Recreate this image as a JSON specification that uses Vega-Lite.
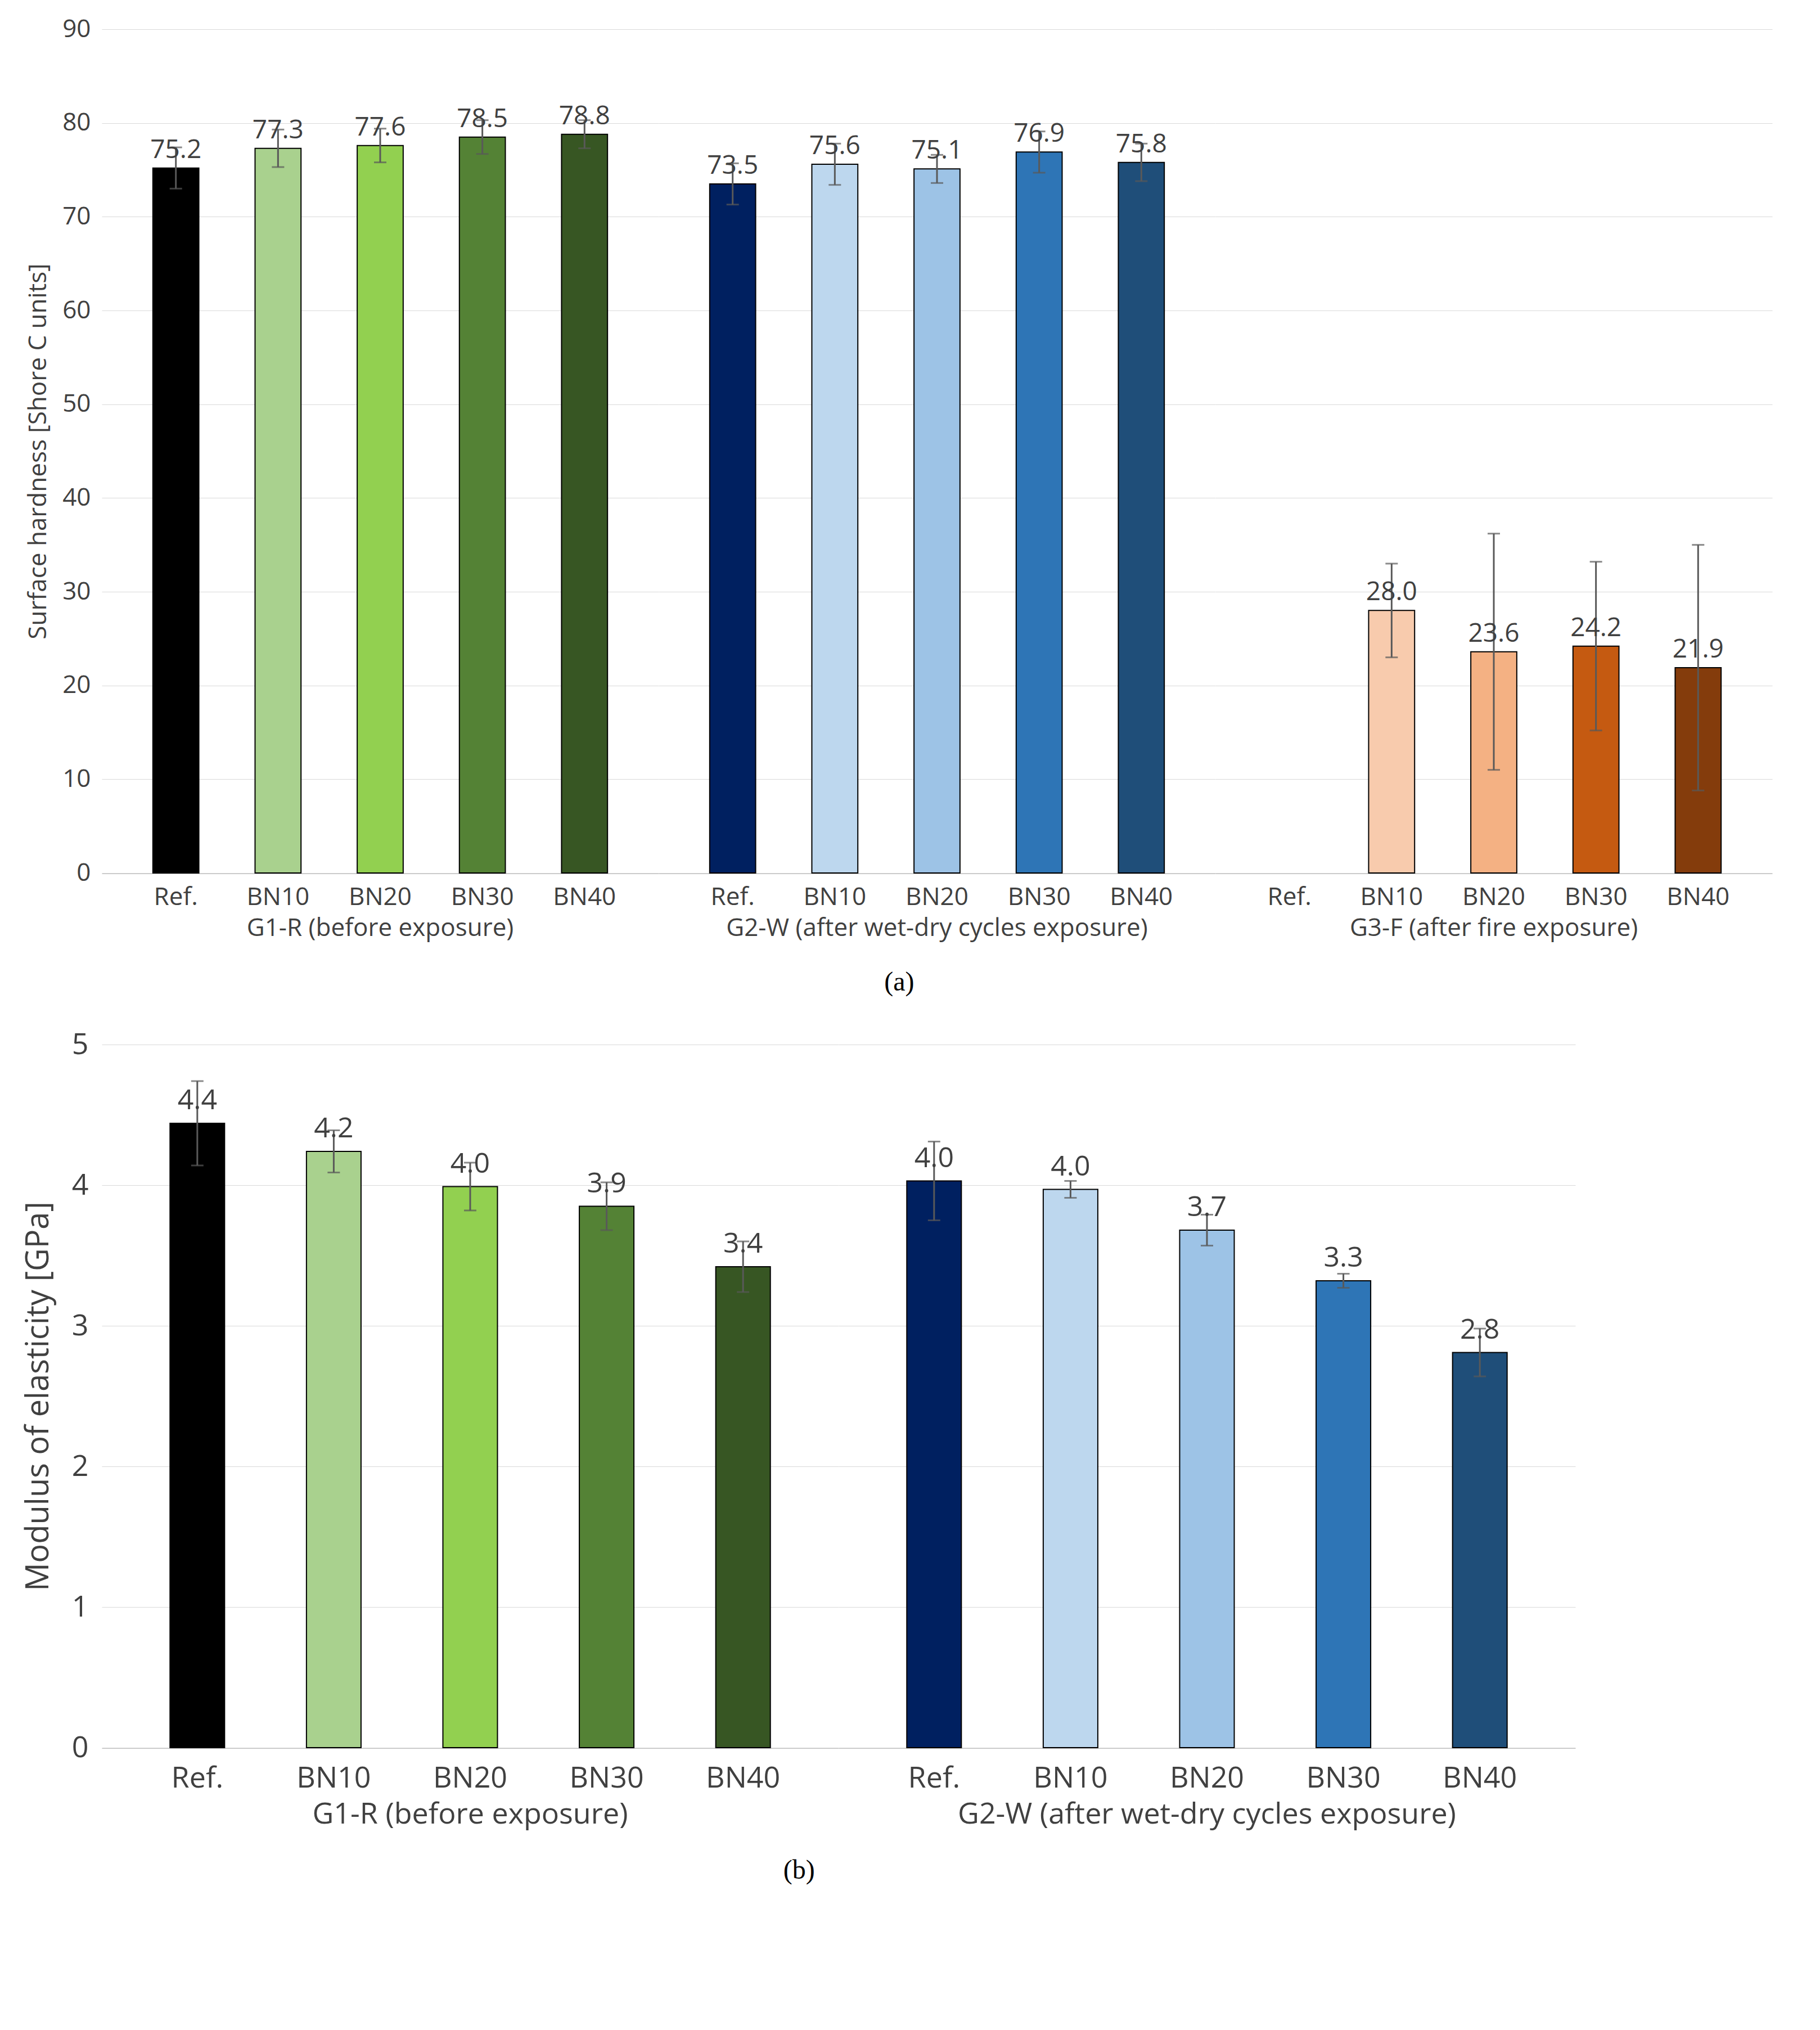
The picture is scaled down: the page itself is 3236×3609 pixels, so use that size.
{
  "$schema": "https://vega.github.io/schema/vega-lite/v6.json",
  "background": "white",
  "padding": {"left": 40, "top": 30, "right": 20, "bottom": 10},
  "spacing": 60,
  "config": {
    "font": "Open Sans",
    "view": {"stroke": null},
    "axis": {"labelFontSize": 44, "labelColor": "#404040", "titleColor": "#404040", "titleFontWeight": "normal", "gridColor": "#d9d9d9", "domainColor": "#bfbfbf", "tickColor": "#bfbfbf"},
    "header": {"labelFontSize": 44, "labelColor": "#404040"},
    "title": {"fontSize": 48, "font": "Liberation Serif", "fontWeight": "normal", "orient": "bottom", "anchor": "middle", "offset": 50}
  },
  "datasets": {
    "a": [
      {"group": "G1-R (before exposure)", "cat": "Ref.", "key": "G1 Ref.", "v": 75.2, "lo": 73.0, "hi": 77.4},
      {"group": "G1-R (before exposure)", "cat": "BN10", "key": "G1 BN10", "v": 77.3, "lo": 75.3, "hi": 79.3},
      {"group": "G1-R (before exposure)", "cat": "BN20", "key": "G1 BN20", "v": 77.6, "lo": 75.8, "hi": 79.4},
      {"group": "G1-R (before exposure)", "cat": "BN30", "key": "G1 BN30", "v": 78.5, "lo": 76.7, "hi": 80.3},
      {"group": "G1-R (before exposure)", "cat": "BN40", "key": "G1 BN40", "v": 78.8, "lo": 77.3, "hi": 80.3},
      {"group": "G2-W (after wet-dry cycles exposure)", "cat": "Ref.", "key": "G2 Ref.", "v": 73.5, "lo": 71.3, "hi": 75.7},
      {"group": "G2-W (after wet-dry cycles exposure)", "cat": "BN10", "key": "G2 BN10", "v": 75.6, "lo": 73.4, "hi": 77.8},
      {"group": "G2-W (after wet-dry cycles exposure)", "cat": "BN20", "key": "G2 BN20", "v": 75.1, "lo": 73.6, "hi": 76.6},
      {"group": "G2-W (after wet-dry cycles exposure)", "cat": "BN30", "key": "G2 BN30", "v": 76.9, "lo": 74.7, "hi": 79.1},
      {"group": "G2-W (after wet-dry cycles exposure)", "cat": "BN40", "key": "G2 BN40", "v": 75.8, "lo": 73.8, "hi": 77.8},
      {"group": "G3-F (after fire exposure)", "cat": "BN10", "key": "G3 BN10", "v": 28.0, "lo": 23.0, "hi": 33.0},
      {"group": "G3-F (after fire exposure)", "cat": "BN20", "key": "G3 BN20", "v": 23.6, "lo": 11.0, "hi": 36.2},
      {"group": "G3-F (after fire exposure)", "cat": "BN30", "key": "G3 BN30", "v": 24.2, "lo": 15.2, "hi": 33.2},
      {"group": "G3-F (after fire exposure)", "cat": "BN40", "key": "G3 BN40", "v": 21.9, "lo": 8.8, "hi": 35.0}
    ],
    "b": [
      {"group": "G1-R (before exposure)", "cat": "Ref.", "key": "G1 Ref.", "v": 4.44, "lo": 4.14, "hi": 4.74},
      {"group": "G1-R (before exposure)", "cat": "BN10", "key": "G1 BN10", "v": 4.24, "lo": 4.09, "hi": 4.39},
      {"group": "G1-R (before exposure)", "cat": "BN20", "key": "G1 BN20", "v": 3.99, "lo": 3.82, "hi": 4.16},
      {"group": "G1-R (before exposure)", "cat": "BN30", "key": "G1 BN30", "v": 3.85, "lo": 3.68, "hi": 4.02},
      {"group": "G1-R (before exposure)", "cat": "BN40", "key": "G1 BN40", "v": 3.42, "lo": 3.24, "hi": 3.60},
      {"group": "G2-W (after wet-dry cycles exposure)", "cat": "Ref.", "key": "G2 Ref.", "v": 4.03, "lo": 3.75, "hi": 4.31},
      {"group": "G2-W (after wet-dry cycles exposure)", "cat": "BN10", "key": "G2 BN10", "v": 3.97, "lo": 3.91, "hi": 4.03},
      {"group": "G2-W (after wet-dry cycles exposure)", "cat": "BN20", "key": "G2 BN20", "v": 3.68, "lo": 3.57, "hi": 3.79},
      {"group": "G2-W (after wet-dry cycles exposure)", "cat": "BN30", "key": "G2 BN30", "v": 3.32, "lo": 3.27, "hi": 3.37},
      {"group": "G2-W (after wet-dry cycles exposure)", "cat": "BN40", "key": "G2 BN40", "v": 2.81, "lo": 2.64, "hi": 2.98}
    ]
  },
  "vconcat": [
    {
      "data": {"name": "a"},
      "title": "(a)",
      "facet": {
        "column": {
          "field": "group",
          "sort": ["G1-R (before exposure)", "G2-W (after wet-dry cycles exposure)", "G3-F (after fire exposure)"],
          "header": {"labelOrient": "bottom", "title": null, "labelPadding": 12}
        }
      },
      "spacing": 0,
      "spec": {
        "width": 990,
        "height": 1500,
        "encoding": {
          "x": {"field": "cat", "type": "nominal", "sort": ["Ref.", "BN10", "BN20", "BN30", "BN40"],
                "scale": {"domain": ["Ref.", "BN10", "BN20", "BN30", "BN40"], "paddingInner": 0.55, "paddingOuter": 0.5},
                "axis": {"title": null, "labelAngle": 0, "ticks": false, "labelPadding": 20}}
        },
        "layer": [
          {
            "mark": {"type": "bar", "stroke": "black", "strokeWidth": 2},
            "encoding": {
              "y": {"field": "v", "type": "quantitative", "scale": {"domain": [0, 90]},
                    "title": "Surface hardness [Shore C units]",
                    "axis": {"values": [0, 10, 20, 30, 40, 50, 60, 70, 80, 90], "titleFontSize": 44, "ticks": false, "domain": false, "labelPadding": 20, "titlePadding": 20}},
              "color": {"field": "key", "type": "nominal", "legend": null,
                "scale": {
                  "domain": ["G1 Ref.", "G1 BN10", "G1 BN20", "G1 BN30", "G1 BN40", "G2 Ref.", "G2 BN10", "G2 BN20", "G2 BN30", "G2 BN40", "G3 BN10", "G3 BN20", "G3 BN30", "G3 BN40"],
                  "range": ["#000000", "#a9d18e", "#92d050", "#548235", "#375623", "#002060", "#bdd7ee", "#9dc3e6", "#2e75b6", "#1f4e79", "#f8cbad", "#f4b183", "#c55a11", "#843c0c"]
                }}
            }
          },
          {
            "mark": {"type": "errorbar", "ticks": {"size": 22}, "color": "#595959", "thickness": 3},
            "encoding": {
              "y": {"field": "lo", "type": "quantitative", "title": "Surface hardness [Shore C units]"},
              "y2": {"field": "hi"}
            }
          },
          {
            "mark": {"type": "text", "fontSize": 46, "dy": -32, "color": "#404040"},
            "encoding": {
              "y": {"field": "v", "type": "quantitative", "title": "Surface hardness [Shore C units]"},
              "text": {"field": "v", "type": "quantitative", "format": ".1f"}
            }
          }
        ]
      }
    },
    {
      "data": {"name": "b"},
      "title": "(b)",
      "facet": {
        "column": {
          "field": "group",
          "sort": ["G1-R (before exposure)", "G2-W (after wet-dry cycles exposure)"],
          "header": {"labelOrient": "bottom", "title": null, "labelPadding": 14, "labelFontSize": 52}
        }
      },
      "spacing": 0,
      "spec": {
        "width": 1310,
        "height": 1250,
        "encoding": {
          "x": {"field": "cat", "type": "nominal", "sort": ["Ref.", "BN10", "BN20", "BN30", "BN40"],
                "scale": {"domain": ["Ref.", "BN10", "BN20", "BN30", "BN40"], "paddingInner": 0.6, "paddingOuter": 0.5},
                "axis": {"title": null, "labelAngle": 0, "ticks": false, "labelPadding": 28, "labelFontSize": 52}}
        },
        "layer": [
          {
            "mark": {"type": "bar", "stroke": "black", "strokeWidth": 2},
            "encoding": {
              "y": {"field": "v", "type": "quantitative", "scale": {"domain": [0, 5]},
                    "title": "Modulus of elasticity [GPa]",
                    "axis": {"values": [0, 1, 2, 3, 4, 5], "format": "d", "titleFontSize": 56, "labelFontSize": 52, "ticks": false, "domain": false, "labelPadding": 24, "titlePadding": 30}},
              "color": {"field": "key", "type": "nominal", "legend": null,
                "scale": {
                  "domain": ["G1 Ref.", "G1 BN10", "G1 BN20", "G1 BN30", "G1 BN40", "G2 Ref.", "G2 BN10", "G2 BN20", "G2 BN30", "G2 BN40"],
                  "range": ["#000000", "#a9d18e", "#92d050", "#548235", "#375623", "#002060", "#bdd7ee", "#9dc3e6", "#2e75b6", "#1f4e79"]
                }}
            }
          },
          {
            "mark": {"type": "errorbar", "ticks": {"size": 22}, "color": "#595959", "thickness": 3},
            "encoding": {
              "y": {"field": "lo", "type": "quantitative", "title": "Modulus of elasticity [GPa]"},
              "y2": {"field": "hi"}
            }
          },
          {
            "mark": {"type": "text", "fontSize": 50, "dy": -40, "color": "#404040"},
            "encoding": {
              "y": {"field": "v", "type": "quantitative", "title": "Modulus of elasticity [GPa]"},
              "text": {"field": "v", "type": "quantitative", "format": ".1f"}
            }
          }
        ]
      }
    }
  ]
}
